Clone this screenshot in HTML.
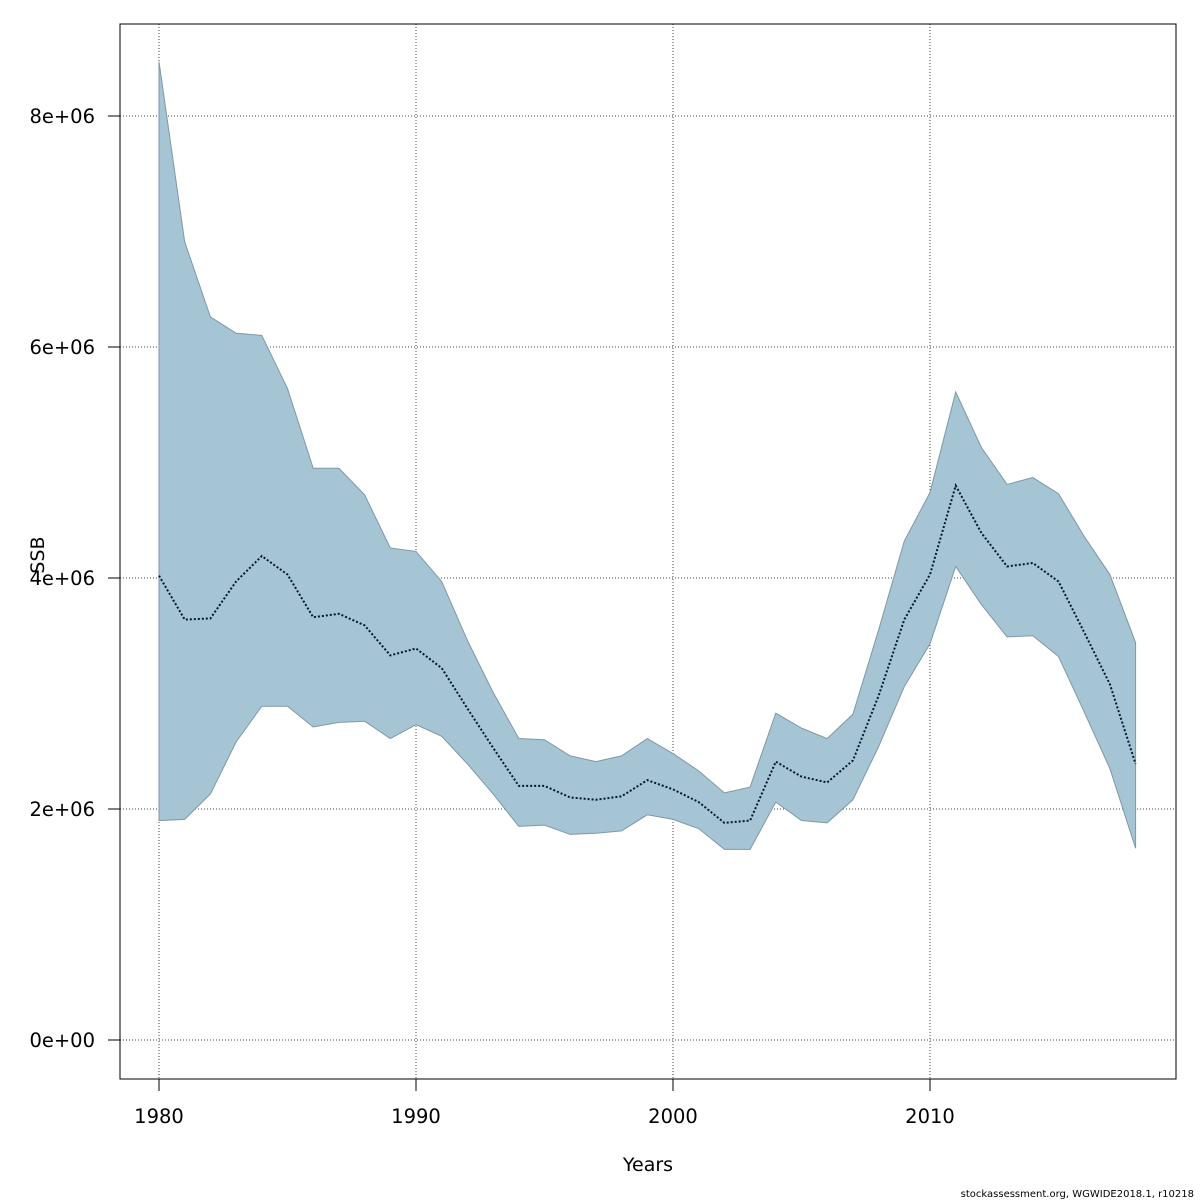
<!DOCTYPE html>
<html><head><meta charset="utf-8"><style>
body{margin:0;background:#fff}
svg{display:block;font-family:"DejaVu Sans","Liberation Sans",sans-serif}
</style></head><body>
<svg id="chart" width="1200" height="1200" viewBox="0 0 1200 1200">
<rect x="0" y="0" width="1200" height="1200" fill="#fff"/>
<g id="grid"></g>
<g id="marks"></g>
<rect x="120" y="24" width="1056" height="1055" fill="none" stroke="#000" stroke-width="1"/>
<g id="axes"></g>
<text x="648" y="1171" font-size="19" text-anchor="middle">Years</text>
<text x="0" y="0" font-size="19" text-anchor="middle" transform="translate(44,555) rotate(-90)">SSB</text>
<text x="1194" y="1197" font-size="10" text-anchor="end">stockassessment.org, WGWIDE2018.1, r10218</text>
</svg>
<script>
const years=[1980,1981,1982,1983,1984,1985,1986,1987,1988,1989,1990,1991,1992,1993,1994,1995,1996,1997,1998,1999,2000,2001,2002,2003,2004,2005,2006,2007,2008,2009,2010,2011,2012,2013,2014,2015,2016,2017,2018];
const upper=[8.47,6.91,6.26,6.12,6.10,5.64,4.95,4.95,4.72,4.26,4.23,3.97,3.46,3.01,2.61,2.60,2.46,2.41,2.46,2.61,2.48,2.33,2.14,2.19,2.83,2.70,2.61,2.82,3.55,4.32,4.74,5.61,5.13,4.81,4.87,4.73,4.36,4.03,3.44];
const ssb=[4.02,3.64,3.65,3.97,4.19,4.03,3.66,3.69,3.59,3.33,3.39,3.22,2.87,2.53,2.20,2.20,2.10,2.08,2.11,2.25,2.17,2.06,1.88,1.90,2.41,2.28,2.23,2.42,2.98,3.64,4.03,4.80,4.39,4.10,4.13,3.97,3.53,3.08,2.39];
const lower=[1.90,1.91,2.13,2.58,2.89,2.89,2.71,2.75,2.76,2.61,2.73,2.63,2.39,2.13,1.85,1.86,1.78,1.79,1.81,1.95,1.91,1.83,1.65,1.65,2.06,1.90,1.88,2.08,2.54,3.06,3.43,4.10,3.77,3.49,3.50,3.32,2.84,2.35,1.66];
const xTicks=[1980,1990,2000,2010];
const yTicks=[0,2,4,6,8];
const yTickLabels=["0e+00","2e+06","4e+06","6e+06","8e+06"];
const NS="http://www.w3.org/2000/svg";
const X=v=>159+(v-1980)*25.7;
const Y=v=>1040-v*115.5;
function mk(t,a,p){const e=document.createElementNS(NS,t);for(const k in a)e.setAttribute(k,a[k]);p.appendChild(e);return e;}
const grid=document.getElementById('grid'),axes=document.getElementById('axes'),marks=document.getElementById('marks');
xTicks.forEach((t,i)=>{
 const g=mk('line',{x1:X(t),x2:X(t),y1:24,y2:1079,stroke:'#444','stroke-dasharray':'1,2'},grid);
 
 
 const tk=mk('line',{x1:X(t),x2:X(t),y1:1079,y2:1091,stroke:'#000'},axes);
 
 
 const l=mk('text',{x:X(t),y:1123,'font-size':19.5,'text-anchor':'middle'},axes);
 l.textContent=t;
 
 
});
yTicks.forEach((t,i)=>{
 const g=mk('line',{x1:120,x2:1176,y1:Y(t),y2:Y(t),stroke:'#444','stroke-dasharray':'1,2'},grid);
 
 
 const tk=mk('line',{x1:108,x2:120,y1:Y(t),y2:Y(t),stroke:'#000'},axes);
 
 
 const l=mk('text',{x:95,y:Y(t)+7,'font-size':19.5,'text-anchor':'end'},axes);
 l.textContent=yTickLabels[i];
 
 
});
let d=years.map((y,i)=>(i?'L':'M')+X(y)+','+Y(upper[i])).join('');
for(let i=years.length-1;i>=0;i--)d+='L'+X(years[i])+','+Y(lower[i]);
const band=mk('path',{d:d+'Z',fill:'#a5c4d4',stroke:'#7f98a5','stroke-width':1},marks);


const line=mk('path',{d:years.map((y,i)=>(i?'L':'M')+X(y)+','+Y(ssb[i])).join(''),fill:'none',stroke:'#001830','stroke-width':2,'stroke-dasharray':'2,2'},marks);


</script>
</body></html>
